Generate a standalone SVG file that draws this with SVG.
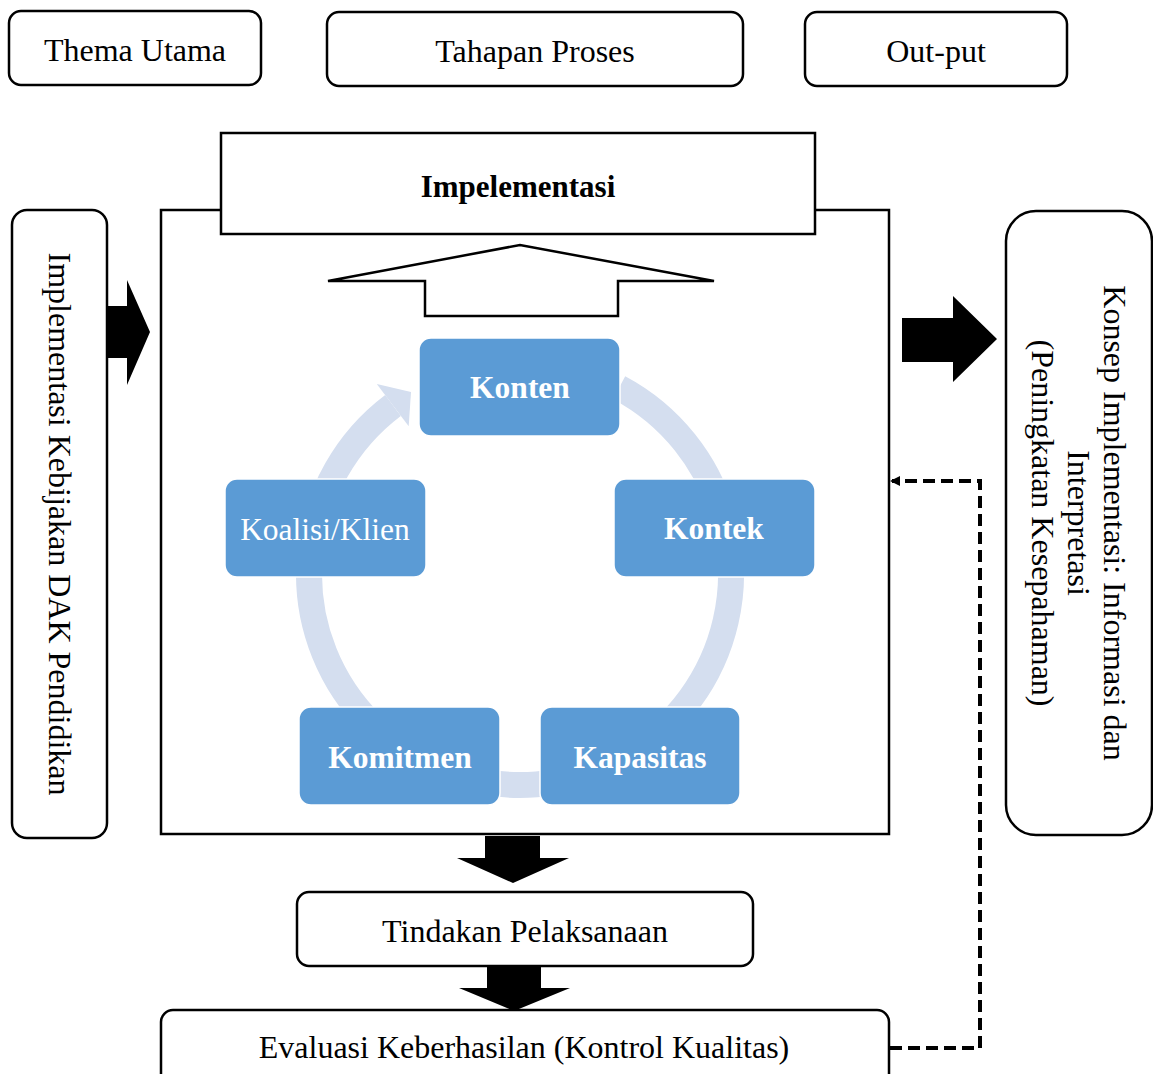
<svg xmlns="http://www.w3.org/2000/svg" width="1153" height="1074" viewBox="0 0 1153 1074">
<style>
.box{fill:#fff;stroke:#000;stroke-width:2.5}
.t{font-family:"Liberation Serif","Times New Roman",serif;font-size:32px;fill:#000;text-anchor:middle}
.b{font-weight:bold;font-size:31px}
.cb{fill:#5B9BD5;stroke:#fff;stroke-width:1.5}
.ct{font-family:"Liberation Serif","Times New Roman",serif;font-size:31.5px;fill:#fff;text-anchor:middle}
.blk{fill:#000}
</style>
<defs>
<marker id="ah" markerWidth="10" markerHeight="10" refX="8" refY="5" orient="auto" markerUnits="userSpaceOnUse">
<path d="M0,0 L10,5 L0,10 Z" fill="#000"/>
</marker>
</defs>
<rect width="1153" height="1074" fill="#fff"/>

<g id="thema-utama"><rect class="box" x="9" y="11" width="252" height="74" rx="12"/><text class="t" x="135" y="61">Thema Utama</text></g>
<g id="tahapan-proses"><rect class="box" x="327" y="12" width="416" height="74" rx="12"/><text class="t" x="535" y="62">Tahapan Proses</text></g>
<g id="out-put"><rect class="box" x="805" y="12" width="262" height="74" rx="12"/><text class="t" x="936" y="62">Out-put</text></g>

<g id="frame"><rect x="161" y="210" width="728" height="624" fill="#fff" stroke="#000" stroke-width="2.5"/></g>
<g id="impelementasi"><rect x="221" y="133" width="594" height="101" fill="#fff" stroke="#000" stroke-width="2.5"/><text class="t b" x="518" y="197">Impelementasi</text></g>
<g id="up-arrow"><polygon points="328,281 520,245 714,281 618,281 618,316 425,316 425,281" fill="#fff" stroke="#000" stroke-width="2.5"/></g>

<g id="cycle-ring">
<path d="M619.1,387.7 A211,211 0 1 1 393,405.5" fill="none" stroke="#D4DEEF" stroke-width="26"/>
<polygon points="376.8,383.9 411,392 408.7,426.3" fill="#D4DEEF"/>
</g>

<g id="konten"><rect class="cb" x="419" y="338" width="201" height="98" rx="12"/><text class="ct b" x="520" y="398">Konten</text></g>
<g id="kontek"><rect class="cb" x="614" y="479" width="201" height="98" rx="12"/><text class="ct b" x="714" y="539">Kontek</text></g>
<g id="kapasitas"><rect class="cb" x="540" y="707" width="200" height="98" rx="12"/><text class="ct b" x="640" y="768">Kapasitas</text></g>
<g id="komitmen"><rect class="cb" x="299" y="707" width="201" height="98" rx="12"/><text class="ct b" x="400" y="768">Komitmen</text></g>
<g id="koalisi"><rect class="cb" x="225" y="479" width="201" height="98" rx="12"/><text class="ct" x="325" y="540">Koalisi/Klien</text></g>

<g id="kebijakan"><rect class="box" x="12" y="210" width="95" height="628" rx="15"/><text class="t" transform="translate(49,524) rotate(90)">Implementasi Kebijakan DAK Pendidikan</text></g>
<g id="konsep"><rect class="box" x="1006" y="211" width="146" height="624" rx="30"/>
<text class="t" transform="translate(1104,523) rotate(90)">Konsep Implementasi: Informasi dan</text>
<text class="t" transform="translate(1068,523) rotate(90)">Interpretasi</text>
<text class="t" transform="translate(1032,523) rotate(90)">(Peningkatan Kesepahaman)</text>
</g>

<g id="tindakan"><rect class="box" x="297" y="892" width="456" height="74" rx="12"/><text class="t" x="525" y="942">Tindakan Pelaksanaan</text></g>
<g id="evaluasi"><rect class="box" x="161" y="1010" width="728" height="80" rx="12"/><text class="t" x="524" y="1058">Evaluasi Keberhasilan (Kontrol Kualitas)</text></g>

<g id="connectors">
<polygon class="blk" points="107,306 127,306 127,280 150,332 127,385 127,358 107,358"/>
<polygon class="blk" points="902,318 953,318 953,296 997,339 953,382 953,362 902,362"/>
<polygon class="blk" points="485,836 540,836 540,858 569,858 513,883 457,858 485,858"/>
<polygon class="blk" points="487,966 541,966 541,988 570,988 514,1011 459,988 487,988"/>
<path d="M890,1048 H980 V481 H892" fill="none" stroke="#000" stroke-width="4" stroke-dasharray="12,6" marker-end="url(#ah)"/>
</g>
</svg>
